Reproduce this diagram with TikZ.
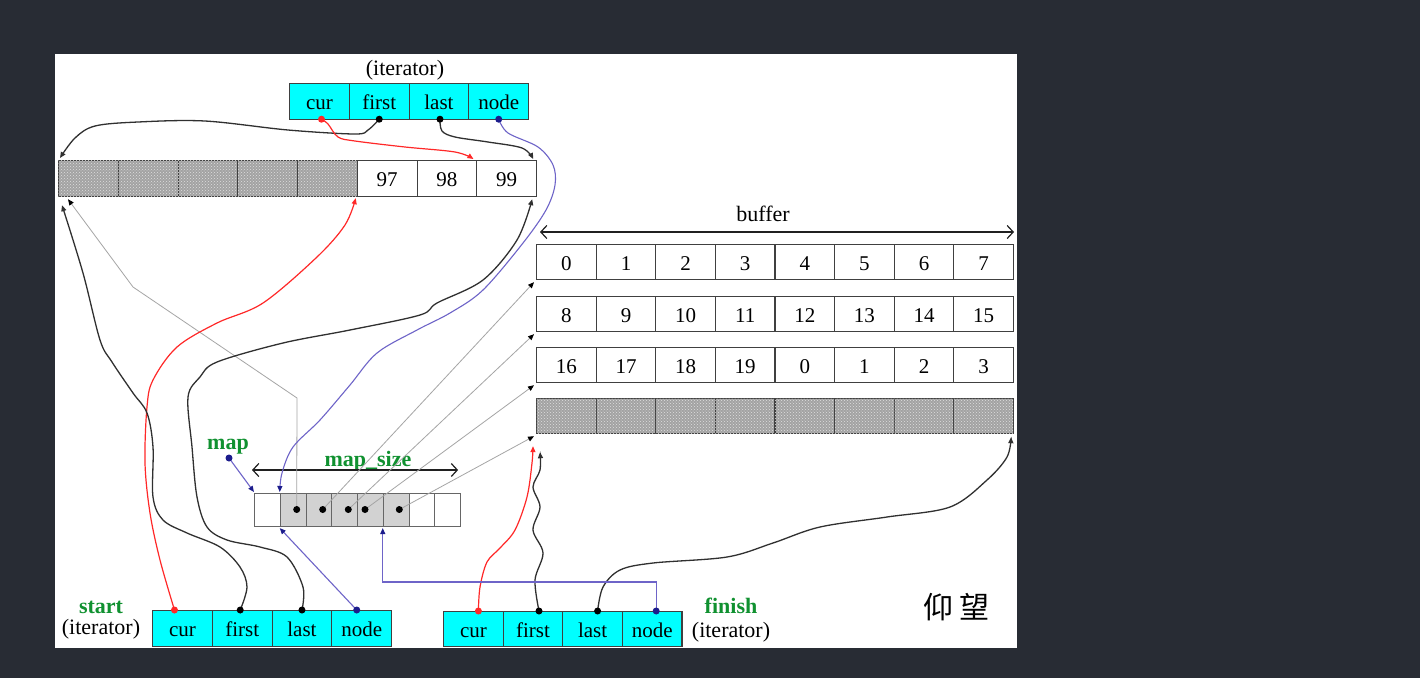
\documentclass[tikz,border=0pt]{standalone}
\usepackage{fontspec}
\setmainfont{Liberation Serif}
\newfontfamily\cjk{Noto Sans CJK SC}
\usetikzlibrary{arrows.meta,patterns}
\definecolor{bgdark}{RGB}{40,44,52}
\definecolor{cellborder}{RGB}{64,64,64}
\definecolor{itcyan}{RGB}{0,255,255}
\definecolor{lblgreen}{RGB}{16,145,48}
\definecolor{curvek}{RGB}{48,48,48}
\definecolor{curver}{RGB}{255,40,40}
\definecolor{curvep}{RGB}{110,100,200}
\definecolor{dotnavy}{RGB}{28,28,140}
\definecolor{thing}{RGB}{165,165,165}
\newcommand\cellfont{\fontsize{21}{24}\selectfont}
\newcommand\lblfont{\fontsize{22}{26}\selectfont}
\begin{document}
\begin{tikzpicture}[x=1pt,y=-1pt,
  cell/.style={draw=cellborder, line width=1.2pt, anchor=north west, inner sep=0pt,
    minimum width=59.75pt, minimum height=36pt, font=\cellfont, text height=16pt, text depth=0pt},
  bcell/.style={cell, minimum width=59.6pt, minimum height=35pt},
  icell/.style={cell, fill=itcyan},
  mcell/.style={draw=cellborder!80, line width=1.1pt, anchor=north west, inner sep=0pt,
    minimum width=25.75pt, minimum height=33pt},
  shaded/.style={fill=gray!72, postaction={pattern=crosshatch dots, pattern color=gray!25}},
  lbl/.style={font=\lblfont, inner sep=0pt},
  glbl/.style={font=\lblfont\bfseries, text=lblgreen, inner sep=0pt},
  tipk/.style={-{Triangle[length=6pt,width=5pt]}},
  blkline/.style={draw=curvek, line width=1.3pt},
  redline/.style={draw=curver, line width=1.2pt},
  purline/.style={draw=curvep, line width=1.1pt},
  thinline/.style={draw=thing, line width=0.8pt},
  dimarrow/.style={draw=gray!25!black, line width=1.2pt,
    {Straight Barb[length=6pt,width=13pt]}-{Straight Barb[length=6pt,width=13pt]}}
]
\useasboundingbox (0,0) rectangle (1420,678);
\fill[bgdark] (0,0) rectangle (1420,678);
\fill[white] (55,54) rectangle (1017,648);

% top node buffer
\foreach \i in {0,...,4} \node[cell,shaded] (tb\i) at ({58+\i*59.75},160) {};
\foreach \i/\t in {5/97,6/98,7/99} \node[cell] (tb\i) at ({58+\i*59.75},160) {\t};

% buffer rows
\foreach \t [count=\i from 0] in {0,1,2,3,4,5,6,7} \node[bcell] (ra\i) at ({536+\i*59.6},244) {\t};
\foreach \t [count=\i from 0] in {8,9,10,11,12,13,14,15} \node[bcell] (rb\i) at ({536+\i*59.6},296) {\t};
\foreach \t [count=\i from 0] in {16,17,18,19,0,1,2,3} \node[bcell] (rc\i) at ({536+\i*59.6},347) {\t};
\foreach \i in {0,...,7} \node[bcell,shaded] (rd\i) at ({536+\i*59.6},398) {};

% map
\foreach \i in {0,6,7} \node[mcell] (m\i) at ({254+\i*25.75},493) {};
\foreach \i in {1,...,5} \node[mcell, fill=gray!35] (m\i) at ({254+\i*25.75},493) {};
\foreach \n/\x in {1/296.7,2/322.7,3/348.3,4/365,5/399.3} \coordinate (d\n) at (\x,509.5);

% iterators
\foreach \t [count=\i from 0] in {cur,first,last,node} \node[icell] (ti\i) at ({289+\i*59.75},83) {\t};
\foreach \t [count=\i from 0] in {cur,first,last,node} \node[icell] (si\i) at ({152+\i*59.75},610) {\t};
\foreach \t [count=\i from 0] in {cur,first,last,node} \node[icell, minimum width=59.6pt, minimum height=35pt] (fi\i) at ({443+\i*59.6},611) {\t};

\coordinate (tcur) at ([xshift=2pt,yshift=1pt]ti0.south);
\coordinate (tfirst) at ([yshift=1pt]ti1.south);
\coordinate (tlast) at ([xshift=1pt,yshift=1pt]ti2.south);
\coordinate (tnode) at ([yshift=1pt]ti3.south);
\coordinate (scur) at ([xshift=-8pt]si0.north);
\coordinate (sfirst) at ([xshift=-2pt]si1.north);
\coordinate (slast) at (si2.north);
\coordinate (snode) at ([xshift=-5pt]si3.north);
\coordinate (fcur) at ([xshift=5pt]fi0.north);
\coordinate (ffirst) at ([xshift=6pt]fi1.north);
\coordinate (flast) at ([xshift=5pt]fi2.north);
\coordinate (fnode) at ([xshift=4pt]fi3.north);
\coordinate (mapdot) at (229,458);

% labels
\node[lbl, anchor=base] (toplbl) at (405,75) {(iterator)};
\node[lbl, anchor=base] (buflbl) at (763,221) {buffer};
\node[glbl, anchor=base] (maplbl) at (228,449) {map};
\node[glbl, anchor=base] (msizelbl) at (368,466) {map\_size};
\node[glbl, anchor=base] (startlbl) at (101,613) {start};
\node[lbl, anchor=base] (startit) at (101,634) {(iterator)};
\node[glbl, anchor=base] (finishlbl) at (731,613) {finish};
\node[lbl, anchor=base] (finishit) at (731,637) {(iterator)};
\node[font=\cjk\fontsize{30}{30}\selectfont, inner sep=0pt] (sig) at (956,607) {仰\hspace{6pt}望};

% dimension arrows
\coordinate (bufL) at ([xshift=4pt,yshift=12pt]ra0.north west);
\coordinate (bufR) at ([yshift=12pt]ra7.north east);
\draw[dimarrow] (bufL) -- (bufR);
\coordinate (mszL) at ([xshift=-2pt,yshift=23pt]m0.north west);
\coordinate (mszR) at ([xshift=-3pt,yshift=23pt]m7.north east);
\draw[dimarrow] (mszL) -- (mszR);

% thin gray map pointers
\draw[thinline, -{Triangle[length=6pt,width=5pt,color=black]}] (d1) -- (297,398) -- (133,287) -- ([xshift=10pt,yshift=-2pt]tb0.south west);
\draw[thinline, -{Triangle[length=6pt,width=5pt,color=black]}] (d2) -- ([xshift=-2pt,yshift=-2pt]ra0.south west);
\draw[thinline, -{Triangle[length=6pt,width=5pt,color=black]}] (d3) -- ([xshift=-2pt,yshift=-2pt]rb0.south west);
\draw[thinline, -{Triangle[length=6pt,width=5pt,color=black]}] (d4) -- ([xshift=-2pt,yshift=-2pt]rc0.south west);
\draw[thinline, -{Triangle[length=6pt,width=5pt,color=black]}] (d5) -- ([xshift=-2pt,yshift=-2pt]rd0.south west);

% top iterator connectors
\draw[blkline, tipk] plot[smooth, tension=0.55] coordinates {(tfirst) (368,130) (355,134) (288,130) (205,121) (138,122) (95,126) (75,138) ([xshift=2pt,yshift=2pt]tb0.north west)};
\draw[redline, tipk] plot[smooth, tension=0.55] coordinates {(tcur) (328,124) (338,137) (355,141) (405,147) (455,152) ([xshift=-4pt,yshift=1pt]tb6.north east)};
\draw[blkline, tipk] plot[smooth, tension=0.55] coordinates {(tlast) (442,131) (455,137) (488,142) (522,148) ([xshift=-4pt,yshift=1pt]tb7.north east)};
\draw[purline, -{Triangle[length=6pt,width=5pt,color=dotnavy]}] plot[smooth, tension=0.55] coordinates {(tnode) (508,133) (538,147) (553,165) (555,185) (546,210) (523,243) (483,290) (450,313) (417,330) (377,353) (350,385) (320,420) (293,447) (282,473) ([yshift=1pt]m1.north west)};

% start connectors
\draw[redline, tipk] plot[smooth, tension=0.55] coordinates {(scur) (160,560) (150,513) (145,463) (147,407) (153,380) (177,347) (217,323) (263,303) (317,257) (345,225) ([xshift=-1pt,yshift=-1pt]tb5.south west)};
\draw[blkline, tipk] plot[smooth, tension=0.55] coordinates {(sfirst) (247,587) (240,567) (220,547) (187,533) (163,520) (153,497) (153,447) (147,413) (133,393) (112,362) (100,340) (83,273) ([xshift=4pt,yshift=-8pt]tb0.south west)};
\draw[blkline, tipk] plot[smooth, tension=0.55] coordinates {(slast) (303,587) (287,557) (260,547) (227,540) (207,527) (197,497) (192,447) (188,397) (200,377) (217,362) (283,343) (350,330) (420,315) (437,303) (483,280) (517,240) ([xshift=-5pt,yshift=-2pt]tb7.south east)};
\draw[purline, -{Triangle[length=6pt,width=5pt,color=dotnavy]}] (snode) -- ([yshift=-1pt]m1.south west);
\draw[purline, -{Triangle[length=6pt,width=5pt,color=dotnavy]}] (mapdot) -- ([yshift=1pt]m0.north west);

% finish connectors
\draw[redline, tipk] plot[smooth, tension=0.55] coordinates {(fcur) (480,587) (487,562) (500,548) (515,530) (527,497) (532,463) ([xshift=-3pt,yshift=-12pt]rd0.south west)};
\draw[blkline, tipk] plot[smooth, tension=0.55] coordinates {(ffirst) (535,580) (543,553) (533,530) (540,507) (533,487) (540,470) ([xshift=4pt,yshift=-18pt]rd0.south west)};
\draw[blkline, tipk] plot[smooth, tension=0.55] coordinates {(flast) (603,587) (620,570) (653,563) (727,557) (773,543) (820,527) (887,517) (950,507) (987,480) (1007,457) ([xshift=-3pt,yshift=-3pt]rd7.south east)};
\draw[purline, -{Triangle[length=6pt,width=5pt,color=dotnavy]}] (fnode) -- ++(0,-29) -| ([yshift=-1pt]m5.south west);

% dots
\fill[curver] (tcur) circle (3.5) (scur) circle (3.5) (fcur) circle (3.5);
\fill[black] (tfirst) circle (3.5) (tlast) circle (3.5) (sfirst) circle (3.5) (slast) circle (3.5) (ffirst) circle (3.5) (flast) circle (3.5);
\fill[dotnavy] (tnode) circle (3.5) (snode) circle (3.5) (fnode) circle (3.5) (mapdot) circle (3.5);
\foreach \n in {1,...,5} \fill[black] (d\n) circle (3.5);
\end{tikzpicture}
\end{document}
